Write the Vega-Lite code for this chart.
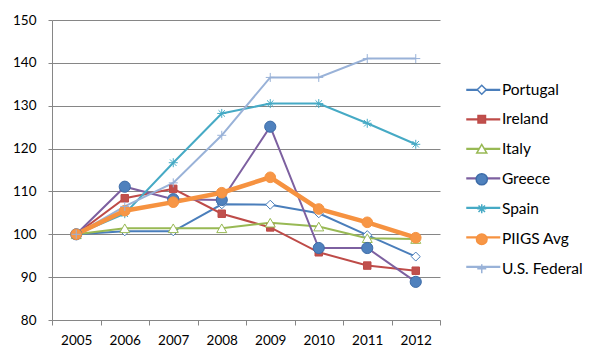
{
  "$schema": "https://vega.github.io/schema/vega-lite/v6.json",
  "autosize": {"type": "none"},
  "width": 388,
  "height": 300,
  "padding": {"left": 52, "top": 20, "right": 161, "bottom": 42},
  "background": "white",
  "config": {
    "view": {"stroke": null},
    "font": "Lato",
    "axis": {"labelFont": "Lato", "labelFontSize": 13.5, "labelColor": "#000000", "domainColor": "#868686", "tickColor": "#868686", "gridColor": "#868686", "gridOpacity": 1},
    "legend": {"labelFont": "Lato", "labelFontSize": 15.5, "labelColor": "#000000"}
  },
  "data": {"values": [
    {"year": "2005", "series": "Portugal", "value": 100},
    {"year": "2006", "series": "Portugal", "value": 100.7},
    {"year": "2007", "series": "Portugal", "value": 100.7},
    {"year": "2008", "series": "Portugal", "value": 107.0},
    {"year": "2009", "series": "Portugal", "value": 106.9},
    {"year": "2010", "series": "Portugal", "value": 104.9},
    {"year": "2011", "series": "Portugal", "value": 99.8},
    {"year": "2012", "series": "Portugal", "value": 94.8},
    {"year": "2005", "series": "Ireland", "value": 100},
    {"year": "2006", "series": "Ireland", "value": 108.4},
    {"year": "2007", "series": "Ireland", "value": 110.6},
    {"year": "2008", "series": "Ireland", "value": 104.8},
    {"year": "2009", "series": "Ireland", "value": 101.6},
    {"year": "2010", "series": "Ireland", "value": 95.8},
    {"year": "2011", "series": "Ireland", "value": 92.7},
    {"year": "2012", "series": "Ireland", "value": 91.5},
    {"year": "2005", "series": "Italy", "value": 100},
    {"year": "2006", "series": "Italy", "value": 101.4},
    {"year": "2007", "series": "Italy", "value": 101.4},
    {"year": "2008", "series": "Italy", "value": 101.4},
    {"year": "2009", "series": "Italy", "value": 102.7},
    {"year": "2010", "series": "Italy", "value": 101.8},
    {"year": "2011", "series": "Italy", "value": 99.1},
    {"year": "2012", "series": "Italy", "value": 98.9},
    {"year": "2005", "series": "Greece", "value": 100},
    {"year": "2006", "series": "Greece", "value": 111.1},
    {"year": "2007", "series": "Greece", "value": 108.2},
    {"year": "2008", "series": "Greece", "value": 108.0},
    {"year": "2009", "series": "Greece", "value": 125.1},
    {"year": "2010", "series": "Greece", "value": 96.8},
    {"year": "2011", "series": "Greece", "value": 96.8},
    {"year": "2012", "series": "Greece", "value": 88.9},
    {"year": "2005", "series": "Spain", "value": 100},
    {"year": "2006", "series": "Spain", "value": 104.8},
    {"year": "2007", "series": "Spain", "value": 116.7},
    {"year": "2008", "series": "Spain", "value": 128.2},
    {"year": "2009", "series": "Spain", "value": 130.5},
    {"year": "2010", "series": "Spain", "value": 130.5},
    {"year": "2011", "series": "Spain", "value": 125.9},
    {"year": "2012", "series": "Spain", "value": 121.0},
    {"year": "2005", "series": "PIIGS Avg", "value": 100},
    {"year": "2006", "series": "PIIGS Avg", "value": 105.5},
    {"year": "2007", "series": "PIIGS Avg", "value": 107.5},
    {"year": "2008", "series": "PIIGS Avg", "value": 109.7},
    {"year": "2009", "series": "PIIGS Avg", "value": 113.3},
    {"year": "2010", "series": "PIIGS Avg", "value": 105.9},
    {"year": "2011", "series": "PIIGS Avg", "value": 102.8},
    {"year": "2012", "series": "PIIGS Avg", "value": 99.2},
    {"year": "2005", "series": "U.S. Federal", "value": 100},
    {"year": "2006", "series": "U.S. Federal", "value": 106.5},
    {"year": "2007", "series": "U.S. Federal", "value": 112.0},
    {"year": "2008", "series": "U.S. Federal", "value": 123.1},
    {"year": "2009", "series": "U.S. Federal", "value": 136.6},
    {"year": "2010", "series": "U.S. Federal", "value": 136.6},
    {"year": "2011", "series": "U.S. Federal", "value": 141.0},
    {"year": "2012", "series": "U.S. Federal", "value": 141.0}
  ]},
  "encoding": {
    "x": {
      "field": "year", "type": "ordinal",
      "scale": {"type": "band", "paddingInner": 0, "paddingOuter": 0},
      "axis": {"title": null, "labelAngle": 0, "tickBand": "extent", "tickSize": 5, "labelPadding": 8, "grid": false, "domainColor": "#868686"}
    },
    "y": {
      "field": "value", "type": "quantitative",
      "scale": {"domain": [80, 150], "nice": false, "zero": false},
      "axis": {"title": null, "values": [80, 90, 100, 110, 120, 130, 140, 150], "tickSize": 4, "labelPadding": 12, "grid": true}
    }
  },
  "layer": [
    {
      "transform": [{"filter": "datum.series !== 'PIIGS Avg'"}],
      "mark": {"type": "line", "strokeWidth": 2},
      "encoding": {
        "color": {
          "field": "series", "type": "nominal",
          "scale": {
            "domain": ["Portugal", "Ireland", "Italy", "Greece", "Spain", "PIIGS Avg", "U.S. Federal"],
            "range": ["#4A7EBB", "#BE4B48", "#98B954", "#7D60A0", "#46AAC5", "#F69240", "#99B2D8"]
          },
          "legend": {
            "title": null, "orient": "none", "legendX": 423.5, "legendY": 62, "padding": 0,
            "symbolType": "M-4.25,0L4.25,0", "symbolSize": 64, "symbolStrokeWidth": 2.25, "symbolFillColor": "transparent",
            "labelOffset": 14, "rowPadding": 12.5, "labelExpr": "''"
          }
        }
      }
    },
    {
      "transform": [{"filter": "datum.series === 'PIIGS Avg'"}],
      "mark": {"type": "line", "strokeWidth": 4.5},
      "encoding": {
        "color": {"field": "series", "type": "nominal"}
      }
    },
    {
      "mark": {"type": "point", "filled": true, "opacity": 1, "strokeWidth": 1},
      "encoding": {
        "shape": {
          "field": "series", "type": "nominal",
          "scale": {
            "domain": ["Portugal", "Ireland", "Italy", "Greece", "Spain", "PIIGS Avg", "U.S. Federal", " "],
            "range": ["diamond", "square", "triangle-up", "circle", "M-1,0L1,0M0,-1L0,1M-0.72,-0.72L0.72,0.72M-0.72,0.72L0.72,-0.72", "circle", "M-1,0L1,0M0,-1L0,1", "circle"]
          },
          "legend": {
            "values": ["Portugal", "Ireland", "Italy", "Greece", "Spain", "PIIGS Avg", "U.S. Federal"],
            "title": null, "orient": "none", "legendX": 422, "legendY": 62, "padding": 0,
            "labelOffset": 12.4, "rowPadding": 12.5
          }
        },
        "size": {
          "field": "series", "type": "nominal",
          "scale": {
            "type": "ordinal",
            "domain": ["Portugal", "Ireland", "Italy", "Greece", "Spain", "PIIGS Avg", "U.S. Federal", " "],
            "range": [81, 56, 100, 125, 81, 113, 81, 81]
          },
          "legend": {
            "values": ["Portugal", "Ireland", "Italy", "Greece", "Spain", "PIIGS Avg", "U.S. Federal"],
            "title": null, "orient": "none", "legendX": 422, "legendY": 62, "padding": 0,
            "labelOffset": 12.4, "rowPadding": 12.5
          }
        },
        "fill": {
          "field": "series", "type": "nominal",
          "scale": {
            "domain": ["Portugal", "Ireland", "Italy", "Greece", "Spain", "PIIGS Avg", "U.S. Federal", " "],
            "range": ["#ffffff", "#C0504D", "#ffffff", "#4F81BD", "transparent", "#F79646", "transparent", "transparent"]
          },
          "legend": {
            "values": ["Portugal", "Ireland", "Italy", "Greece", "Spain", "PIIGS Avg", "U.S. Federal"],
            "title": null, "orient": "none", "legendX": 422, "legendY": 62, "padding": 0,
            "labelOffset": 12.4, "rowPadding": 12.5
          }
        },
        "stroke": {
          "field": "series", "type": "nominal",
          "scale": {
            "domain": ["Portugal", "Ireland", "Italy", "Greece", "Spain", "PIIGS Avg", "U.S. Federal", " "],
            "range": ["#4A7EBB", "#BE4B48", "#98B954", "#3D6CA8", "#46AAC5", "#F69240", "#99B2D8", "#99B2D8"]
          },
          "legend": {
            "values": ["Portugal", "Ireland", "Italy", "Greece", "Spain", "PIIGS Avg", "U.S. Federal"],
            "title": null, "orient": "none", "legendX": 422, "legendY": 62, "padding": 0,
            "labelOffset": 12.4, "rowPadding": 12.5
          }
        }
      }
    }
  ]
}
